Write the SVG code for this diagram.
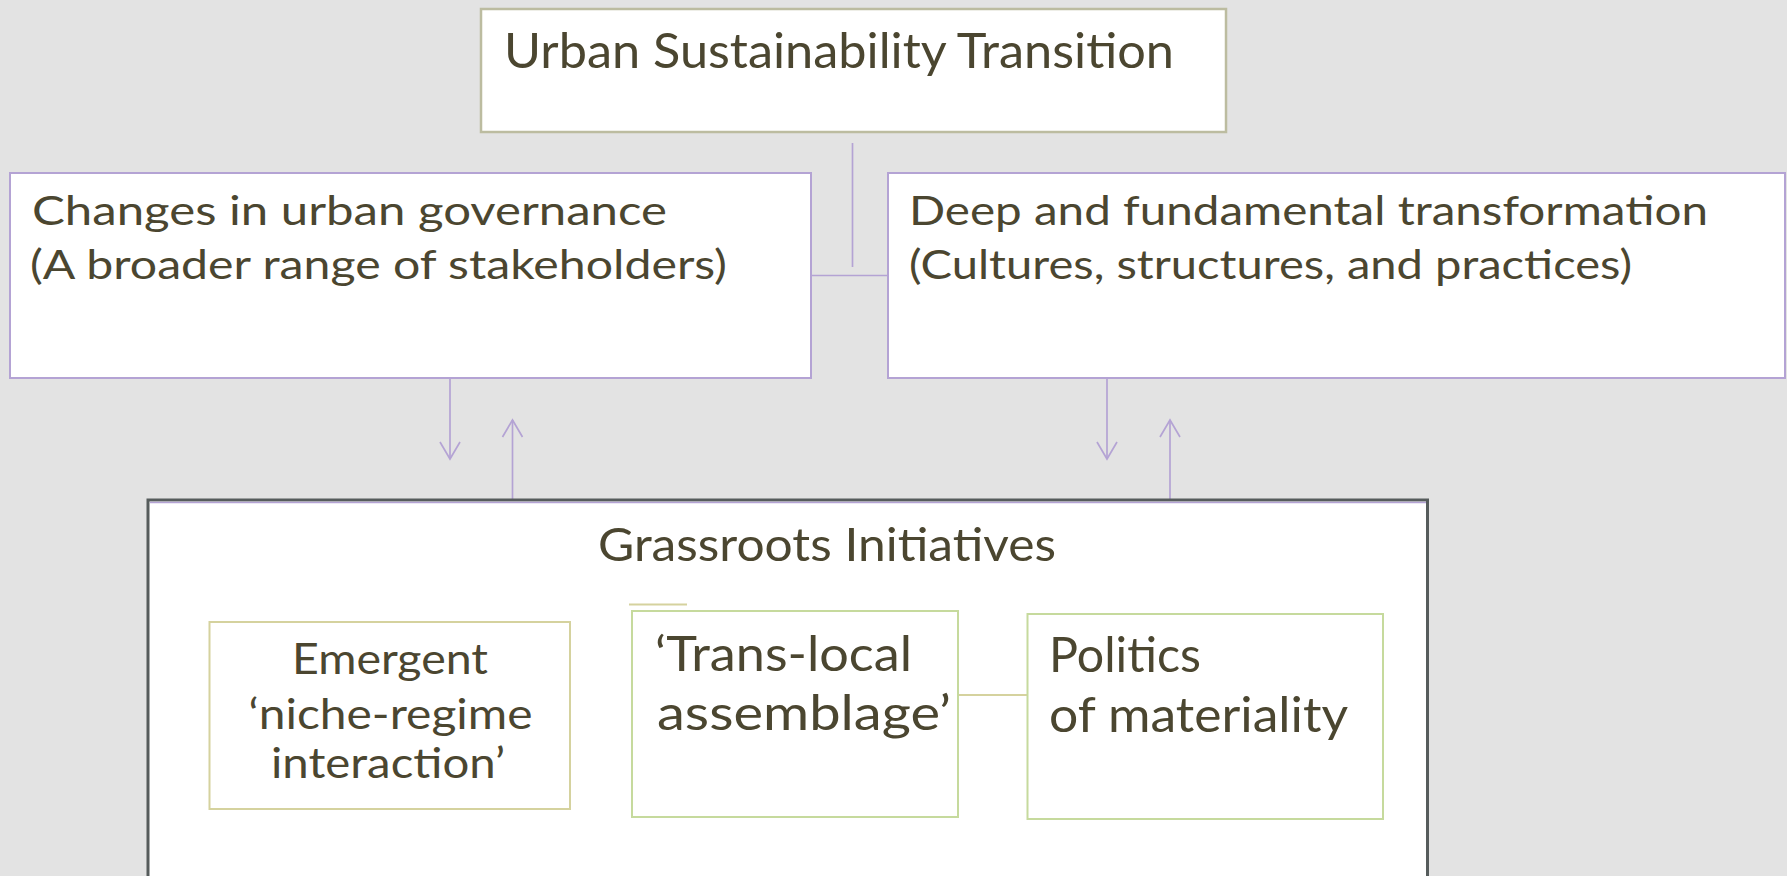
<svg xmlns="http://www.w3.org/2000/svg" width="1787" height="876" viewBox="0 0 1787 876">
<defs>
<style>
.t{font-family:Lato,"Liberation Sans","DejaVu Sans",sans-serif;fill:#4b4630;}
.box{fill:#ffffff;}
.pur{stroke:#b4a3d4;stroke-width:2;}
.olv{stroke:#bcbca0;stroke-width:2.5;}
.kha{stroke:#d5d29e;stroke-width:2;}
.grn{stroke:#c6da9d;stroke-width:2;}
.con{stroke:#b4a3d4;stroke-width:1.7;fill:none;}
.con2{stroke:#d5d29e;stroke-width:2;fill:none;}
</style>
<marker id="ah" markerUnits="userSpaceOnUse" markerWidth="24" markerHeight="24" viewBox="-20 -12 24 24" refX="0" refY="0" orient="auto">
<path d="M-17,-10 L0,0 L-17,10" fill="none" stroke="#b4a3d4" stroke-width="1.7"/>
</marker>
</defs>
<rect x="0" y="0" width="1787" height="876" fill="#e3e3e3"/>

<g id="connectors">
<line class="con" x1="852.5" y1="143" x2="852.5" y2="267"/>
<line class="con" x1="811" y1="275.5" x2="888" y2="275.5"/>
<line class="con" x1="450" y1="379" x2="450" y2="459" marker-end="url(#ah)"/>
<line class="con" x1="512.5" y1="500" x2="512.5" y2="420" marker-end="url(#ah)"/>
<line class="con" x1="1107" y1="379" x2="1107" y2="459" marker-end="url(#ah)"/>
<line class="con" x1="1170" y1="500" x2="1170" y2="420" marker-end="url(#ah)"/>
</g>

<g id="urban-sustainability-transition">
<rect class="box olv" x="481" y="9" width="745" height="123"/>
<text class="t" x="504" y="68" font-size="48" textLength="670" lengthAdjust="spacingAndGlyphs">Urban Sustainability Transition</text>
</g>

<g id="urban-governance">
<rect class="box pur" x="10" y="173" width="801" height="205"/>
<text class="t" x="32" y="225" font-size="41" textLength="635" lengthAdjust="spacingAndGlyphs">Changes in urban governance</text>
<text class="t" x="30" y="279" font-size="41" textLength="697" lengthAdjust="spacingAndGlyphs">(A broader range of stakeholders)</text>
</g>

<g id="deep-transformation">
<rect class="box pur" x="888" y="173" width="897" height="205"/>
<text class="t" x="909" y="225" font-size="41" textLength="799" lengthAdjust="spacingAndGlyphs">Deep and fundamental transformation</text>
<text class="t" x="909" y="279" font-size="41" textLength="723" lengthAdjust="spacingAndGlyphs">(Cultures, structures, and practices)</text>
</g>

<g id="grassroots-initiatives">
<rect class="box" x="148" y="500" width="1279.5" height="400" stroke="#565c5c" stroke-width="3"/>
<line x1="150" y1="502.5" x2="1426" y2="502.5" stroke="#b4a3d4" stroke-width="1.5"/>
<text class="t" x="598" y="561" font-size="47" textLength="458" lengthAdjust="spacingAndGlyphs">Grassroots Initiatives</text>
<line class="con2" x1="629" y1="604.5" x2="687" y2="604.5"/>
<line class="con2" x1="959" y1="695" x2="1027" y2="695"/>
</g>

<g id="niche-regime">
<rect class="box kha" x="209.5" y="622" width="360.5" height="187"/>
<text class="t" x="390" y="674" font-size="42" text-anchor="middle" textLength="196" lengthAdjust="spacingAndGlyphs">Emergent</text>
<text class="t" x="390.5" y="729" font-size="42" text-anchor="middle" textLength="284" lengthAdjust="spacingAndGlyphs">‘niche-regime</text>
<text class="t" x="388" y="778" font-size="42" text-anchor="middle" textLength="234" lengthAdjust="spacingAndGlyphs">interaction’</text>
</g>

<g id="trans-local">
<rect class="box grn" x="632" y="611" width="326" height="206"/>
<text class="t" x="655" y="671" font-size="49" textLength="257" lengthAdjust="spacingAndGlyphs">‘Trans-local</text>
<text class="t" x="657" y="730" font-size="49" textLength="294" lengthAdjust="spacingAndGlyphs">assemblage’</text>
</g>

<g id="politics-materiality">
<rect class="box grn" x="1027.5" y="614" width="355.5" height="205"/>
<text class="t" x="1049" y="672" font-size="49" textLength="152" lengthAdjust="spacingAndGlyphs">Politics</text>
<text class="t" x="1049" y="732" font-size="49" textLength="299" lengthAdjust="spacingAndGlyphs">of materiality</text>
</g>
</svg>
